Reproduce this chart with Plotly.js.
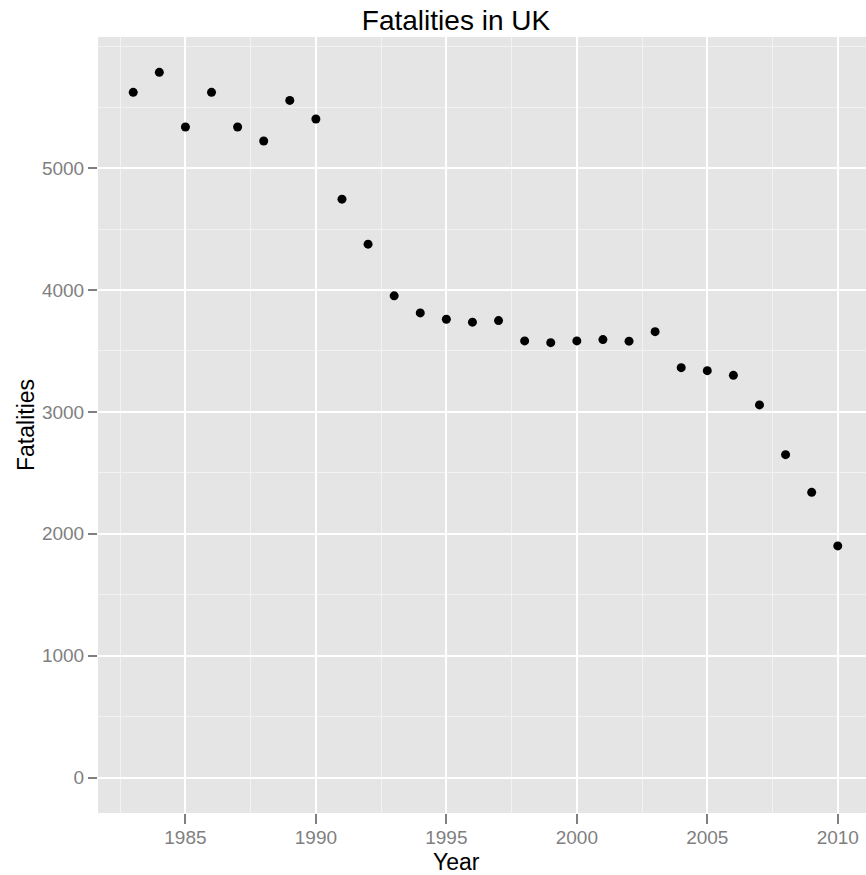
<!DOCTYPE html>
<html>
<head>
<meta charset="utf-8">
<script src="https://cdn.plot.ly/plotly-3.0.1.min.js"></script>
<style>
html,body{margin:0;padding:0;overflow:hidden;background:#fff;}
#chart{width:875px;height:875px;}
</style>
</head>
<body>
<div id="chart"></div>
<script>
const years = [1983,1984,1985,1986,1987,1988,1989,1990,1991,1992,1993,1994,1995,1996,1997,1998,1999,2000,2001,2002,2003,2004,2005,2006,2007,2008,2009,2010];
const fatalities = [5621,5785,5337,5621,5337,5222,5555,5402,4745,4376,3952,3812,3760,3736,3749,3582,3568,3582,3593,3580,3658,3363,3338,3300,3057,2649,2340,1901];
const xTickVals = [1985,1990,1995,2000,2005,2010];
const xMinorVals = [1982.5,1987.5,1992.5,1997.5,2002.5,2007.5];
const yTickVals = [0,1000,2000,3000,4000,5000];
const yMinorVals = [500,1500,2500,3500,4500,5500,6000];
const chartTitle = 'Fatalities in UK';
const xTitle = 'Year';
const yTitle = 'Fatalities';

const W=875,H=875,L=98,R=2,T=37,B=62;
const px2x = p => (p-L)/(W-L-R);
const py2y = p => (H-B-p)/(H-T-B);
const font = 'Liberation Sans, Arial, sans-serif';

const trace = {
  x: years, y: fatalities, type:'scatter', mode:'markers',
  marker:{color:'#000', size:9, symbol:'circle'},
  hoverinfo:'x+y'
};

const layout = {
  width:W, height:H,
  margin:{l:L,r:R,t:T,b:B,pad:0},
  paper_bgcolor:'#fff', plot_bgcolor:'#e5e5e5',
  showlegend:false,
  title:{text:chartTitle, font:{family:font,size:28,color:'#000'}, xref:'paper', x:px2x(456), xanchor:'center', yref:'container', y:1-20/H, yanchor:'middle'},
  xaxis:{
    range:[1981.65,2011.35], tickmode:'array', tickvals:xTickVals, ticktext:xTickVals.map(String),
    ticks:'outside', ticklen:10, tickwidth:2, tickcolor:'#7f7f7f', ticklabelstandoff:-3,
    tickfont:{family:font,size:19,color:'#7f7f7f'},
    showgrid:true, gridcolor:'#ffffff', gridwidth:2,
    minor:{tickmode:'array', tickvals:xMinorVals, showgrid:true, gridcolor:'#f2f2f2', gridwidth:1, ticks:''},
    zeroline:false, showline:false, fixedrange:true
  },
  yaxis:{
    range:[-290,6075], tickmode:'array', tickvals:yTickVals, ticktext:yTickVals.map(String),
    ticks:'outside', ticklen:9, tickwidth:2, tickcolor:'#7f7f7f',
    tickfont:{family:font,size:19,color:'#7f7f7f'},
    showgrid:true, gridcolor:'#ffffff', gridwidth:2,
    minor:{tickmode:'array', tickvals:yMinorVals, showgrid:true, gridcolor:'#f2f2f2', gridwidth:1, ticks:''},
    zeroline:false, showline:false, fixedrange:true
  },
  annotations:[
    {text:xTitle, xref:'paper', yref:'paper', x:px2x(456), y:py2y(862), xanchor:'center', yanchor:'middle', showarrow:false, font:{family:font,size:23,color:'#000'}},
    {text:yTitle, xref:'paper', yref:'paper', x:px2x(26), y:py2y(425), xanchor:'center', yanchor:'middle', textangle:-90, showarrow:false, font:{family:font,size:23,color:'#000'}}
  ]
};

Plotly.newPlot('chart',[trace],layout,{displayModeBar:false,staticPlot:true});
</script>
</body>
</html>
